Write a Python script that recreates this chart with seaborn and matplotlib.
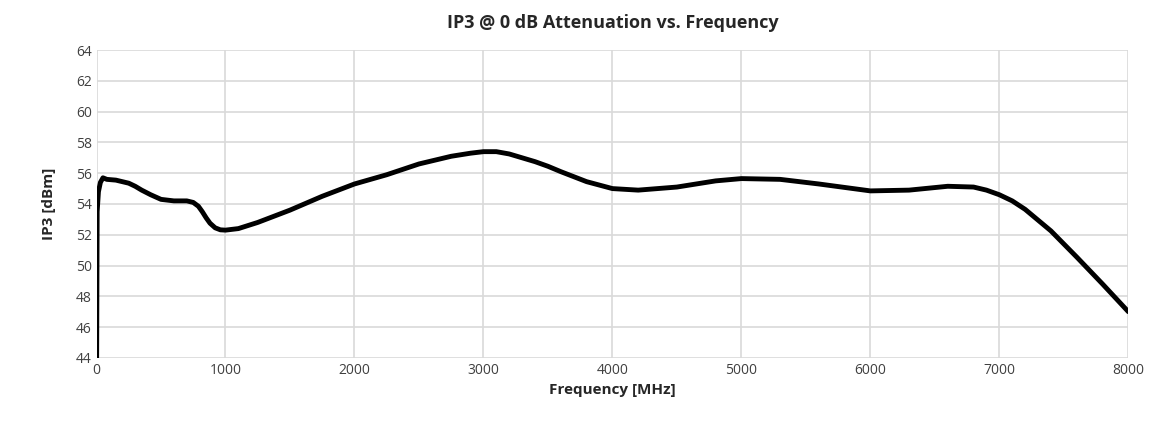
import matplotlib
matplotlib.use("Agg")
import matplotlib.pyplot as plt
import seaborn as sns
import pandas as pd

freq = [1, 5, 15, 30, 50, 80, 150, 250, 300, 350, 420, 500, 600, 700, 750, 790, 820, 850, 880,
        920, 960, 1000, 1100, 1250, 1500, 1750, 2000, 2250, 2500, 2750, 2900, 3000, 3100, 3200,
        3300, 3400, 3500, 3600, 3800, 4000, 4200, 4500, 4800, 5000, 5300, 5600, 6000, 6300,
        6600, 6800, 6900, 7000, 7100, 7200, 7400, 7600, 7800, 8000]
ip3 = [44.0, 53.5, 54.8, 55.4, 55.7, 55.6, 55.55, 55.35, 55.15, 54.9, 54.6, 54.3, 54.2, 54.2,
       54.1, 53.85, 53.5, 53.1, 52.75, 52.45, 52.32, 52.3, 52.4, 52.8, 53.6, 54.5, 55.3, 55.9,
       56.6, 57.1, 57.3, 57.4, 57.4, 57.25, 57.0, 56.75, 56.45, 56.1, 55.45, 55.0, 54.9, 55.1,
       55.5, 55.65, 55.6, 55.3, 54.85, 54.9, 55.15, 55.1, 54.9, 54.6, 54.2, 53.65, 52.25,
       50.55, 48.8, 47.0]

df = pd.DataFrame({"Frequency": freq, "IP3": ip3})

sns.set_style("white")
plt.rcParams['font.family'] = ['Open Sans', 'DejaVu Sans']
fig, ax = plt.subplots(figsize=(11.49, 4.21), dpi=100)
sns.lineplot(data=df, x="Frequency", y="IP3", color="black", linewidth=3.5, ax=ax)
ax.set_xlim(0, 8000)
ax.set_ylim(44, 64)
ax.set_xticks(range(0, 8001, 1000))
ax.set_yticks(range(44, 65, 2))
ax.grid(True, color="#d9d9d9", linewidth=1.2)
for s in ax.spines.values():
    s.set_visible(False)
ax.tick_params(labelsize=10, length=0, colors="#404040")
ax.set_xlabel("Frequency [MHz]", fontweight="bold", fontsize=11, labelpad=4)
ax.set_ylabel("IP3 [dBm]", fontweight="bold", fontsize=11, labelpad=14)
ax.set_title("IP3 @ 0 dB Attenuation vs. Frequency", fontweight="bold", fontsize=13, pad=16)
fig.subplots_adjust(left=0.084, right=0.982, top=0.881, bottom=0.150)
fig.savefig("out.png")
